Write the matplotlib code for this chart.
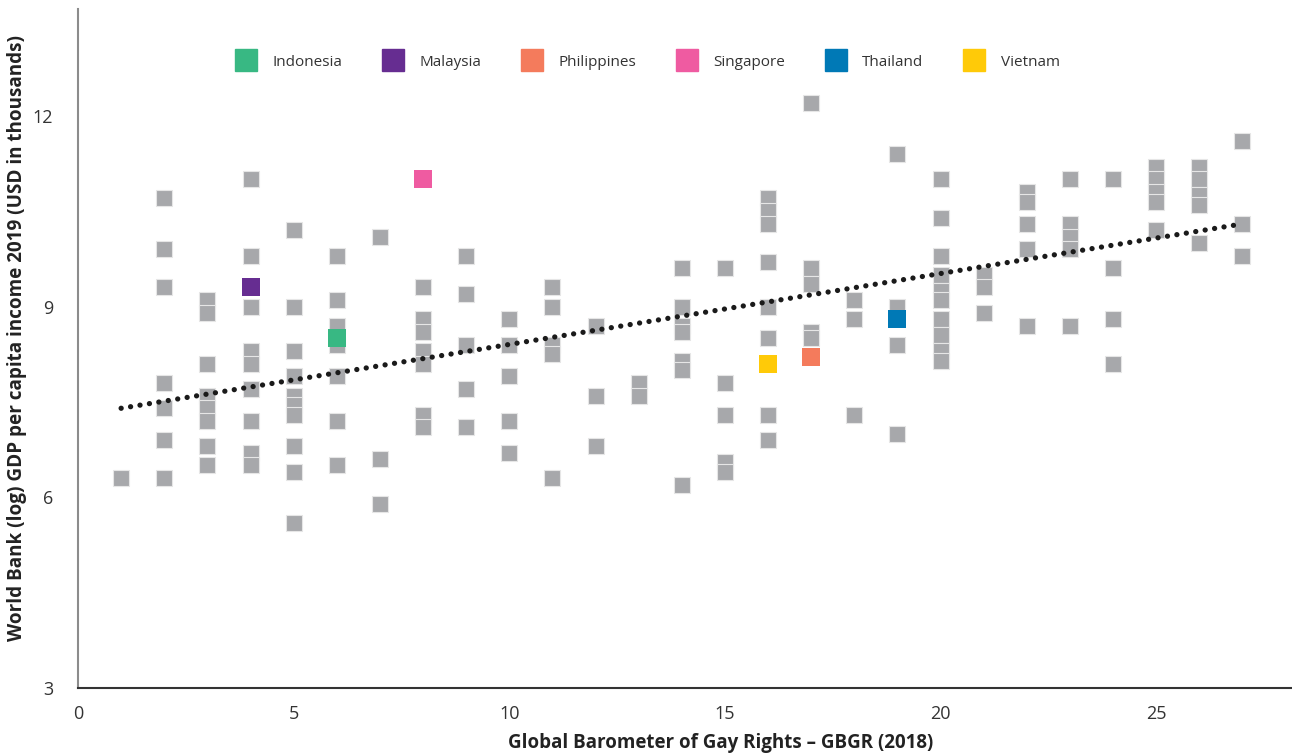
import matplotlib
matplotlib.use("Agg")
import matplotlib.pyplot as plt
from matplotlib.lines import Line2D

plt.rcParams['font.family'] = ['Open Sans', 'DejaVu Sans']

# GBGR score (x) and log GDP per capita (y) for every other country
gbgr = [1,
        2, 2, 2, 2, 2, 2, 2,
        3, 3, 3, 3, 3, 3, 3, 3,
        4, 4, 4, 4, 4, 4, 4, 4, 4,
        5, 5, 5, 5, 5, 5, 5, 5, 5, 5,
        6, 6, 6, 6, 6, 6, 6,
        7, 7, 7,
        8, 8, 8, 8, 8, 8, 8,
        9, 9, 9, 9, 9,
        10, 10, 10, 10, 10,
        11, 11, 11, 11, 11,
        12, 12, 12,
        13, 13,
        14, 14, 14, 14, 14, 14, 14,
        15, 15, 15, 15, 15,
        16, 16, 16, 16, 16, 16, 16, 16,
        17, 17, 17, 17, 17,
        18, 18, 18,
        19, 19, 19, 19,
        20, 20, 20, 20, 20, 20, 20, 20, 20, 20,
        21, 21, 21,
        22, 22, 22, 22, 22,
        23, 23, 23, 23, 23,
        24, 24, 24, 24,
        25, 25, 25, 25, 25,
        26, 26, 26, 26, 26,
        27, 27, 27]
gdp = [6.3,
       10.7, 9.9, 9.3, 7.8, 7.4, 6.9, 6.3,
       9.1, 8.9, 8.1, 7.6, 7.4, 7.2, 6.8, 6.5,
       11.0, 9.8, 9.0, 8.3, 8.1, 7.7, 7.2, 6.7, 6.5,
       10.2, 9.0, 8.3, 7.9, 7.6, 7.45, 7.3, 6.8, 6.4, 5.6,
       9.8, 9.1, 8.7, 8.4, 7.9, 7.2, 6.5,
       10.1, 6.6, 5.9,
       9.3, 8.8, 8.6, 8.3, 8.1, 7.3, 7.1,
       9.8, 9.2, 8.4, 7.7, 7.1,
       8.8, 8.4, 7.9, 7.2, 6.7,
       9.3, 9.0, 8.4, 8.25, 6.3,
       8.7, 7.6, 6.8,
       7.8, 7.6,
       9.6, 9.0, 8.7, 8.6, 8.15, 8.0, 6.2,
       9.6, 7.8, 7.3, 6.55, 6.4,
       10.7, 10.5, 10.3, 9.7, 9.0, 8.5, 7.3, 6.9,
       12.2, 9.6, 9.35, 8.6, 8.5,
       9.1, 8.8, 7.3,
       11.4, 9.0, 8.4, 7.0,
       11.0, 10.4, 9.8, 9.5, 9.25, 9.1, 8.8, 8.55, 8.3, 8.15,
       9.5, 9.3, 8.9,
       10.8, 10.65, 10.3, 9.9, 8.7,
       11.0, 10.3, 10.1, 9.9, 8.7,
       11.0, 9.6, 8.8, 8.1,
       11.2, 11.0, 10.8, 10.65, 10.2,
       11.2, 11.0, 10.75, 10.6, 10.0,
       11.6, 10.3, 9.8]

# highlighted ASEAN countries
countries = ['Indonesia', 'Malaysia', 'Philippines', 'Singapore', 'Thailand', 'Vietnam']
country_gbgr = [6, 4, 17, 8, 19, 16]
country_gdp = [8.5, 9.3, 8.2, 11.0, 8.8, 8.1]
country_colors = ['#38B883', '#662D91', '#F47B5C', '#EF5BA1', '#0079B6', '#FFCA08']

# linear trend end points
trend_x = [1, 27]
trend_y = [7.4, 10.3]

fig = plt.figure(figsize=(12.92, 7.54), dpi=100)
ax = fig.add_axes([78 / 1292, 1 - 688 / 754, 1 - 78 / 1292, (688 - 9) / 754])

ax.scatter(gbgr, gdp, marker='s', s=135, c='#A7A8AB', edgecolors='#E6E6E6',
           linewidths=0.8, zorder=2)
for name, xv, yv, col in zip(countries, country_gbgr, country_gdp, country_colors):
    ax.scatter([xv], [yv], marker='s', s=150, c=col, linewidths=0, zorder=3)

ax.plot(trend_x, trend_y, color='#1A1A1A', lw=3.8, linestyle=(0, (0.01, 1.8)),
        dash_capstyle='round', solid_capstyle='round', zorder=4)

ax.set_xlim(0, 28.15)
ax.set_ylim(3, 13.68)
ax.set_xticks([0, 5, 10, 15, 20, 25])
ax.set_yticks([3, 6, 9, 12])
ax.tick_params(length=0, labelsize=13, labelcolor='#333333', pad=12)
ax.tick_params(axis='y', pad=18)
for s in ['top', 'right']:
    ax.spines[s].set_visible(False)
ax.spines['left'].set_color('#8C8C8C')
ax.spines['left'].set_linewidth(1.5)
ax.spines['bottom'].set_color('#333333')
ax.spines['bottom'].set_linewidth(1.5)

fig.text(721 / 1292, 1 - 743 / 754, 'Global Barometer of Gay Rights – GBGR (2018)',
         fontsize=13.5, fontweight='bold', color='#222222', ha='center', va='center')
fig.text(17 / 1292, 1 - 338 / 754,
         'World Bank (log) GDP per capita income 2019 (USD in thousands)',
         fontsize=13.6, fontweight='bold', color='#222222', ha='center', va='center',
         rotation=90)

handles = [Line2D([], [], marker='s', linestyle='', markersize=16, color=c)
           for c in country_colors]
fig.legend(handles, countries, loc='center', bbox_to_anchor=(645 / 1292, 1 - 62 / 754),
           ncol=6, frameon=False, fontsize=11, handletextpad=0.75, columnspacing=2.3,
           labelcolor='#333333')

fig.savefig('out.png', dpi=100)
